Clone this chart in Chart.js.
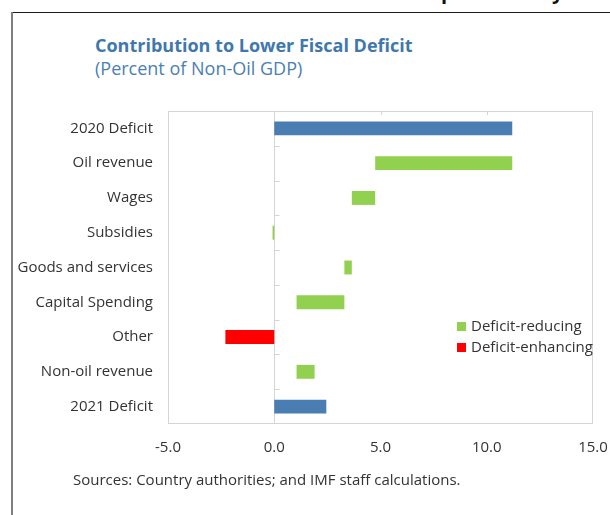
<!DOCTYPE html>
<html>
<head>
  <meta charset="utf-8">
  <script src="https://cdn.jsdelivr.net/npm/chart.js@4.4.0/dist/chart.umd.min.js"></script>
  <style>
    body { margin: 0; background: #fff; }
    .page { position: relative; width: 610px; height: 515px; overflow: hidden; background: #fff; font-family: "Open Sans", sans-serif; }
    .frameTop { position: absolute; left: 11px; top: 12px; width: 599px; height: 0; border-top: 1.5px solid #1a1a1a; }
    .frameLeft { position: absolute; left: 11px; top: 12px; width: 0; height: 503px; border-left: 2px solid #808080; }
    .cutText { position: absolute; top: -18px; font-size: 20px; line-height: 20px; font-weight: bold; color: #111; }
    .title { position: absolute; left: 95px; top: 33px; font-size: 18px; font-weight: bold; color: #3f78ad; white-space: nowrap; }
    .subtitle { position: absolute; left: 95px; top: 56px; font-size: 18px; color: #4a80b4; white-space: nowrap; }
    .sources { position: absolute; left: 73px; top: 469px; font-size: 15px; color: #333; white-space: nowrap; }
    .legend { position: absolute; left: 457px; top: 315px; font-size: 15px; color: #333; line-height: 21px; }
    .legend span.box { display: inline-block; width: 9px; height: 9px; margin-right: 5px; vertical-align: 0px; }
    canvas { position: absolute; left: 0; top: 0; }
  </style>
</head>
<body>
  <div class="page">
    <div class="cutText" style="left:441px">p</div>
    <div class="cutText" style="left:552px">y</div>
    <div class="frameTop"></div>
    <div class="frameLeft"></div>
    <div class="title">Contribution to Lower Fiscal Deficit</div>
    <div class="subtitle">(Percent of Non-Oil GDP)</div>
    <canvas id="fiscalCanvas" width="610" height="515"></canvas>
    <div class="legend" id="legendBox"></div>
    <div class="sources">Sources: Country authorities; and IMF staff calculations.</div>
  </div>

  <script>
    const categories = ['2020 Deficit', 'Oil revenue', 'Wages', 'Subsidies', 'Goods and services',
      'Capital Spending', 'Other', 'Non-oil revenue', '2021 Deficit'];
    // floating bars: where each contribution starts and ends
    const barStart = [0, 4.75, 3.65, -0.08, 3.3, 1.05, -2.3, 1.05, 0];
    const barEnd = [11.2, 11.2, 4.75, 0, 3.65, 3.3, 0, 1.9, 2.45];
    const barKind = ['total', 'reducing', 'reducing', 'reducing', 'reducing', 'reducing', 'enhancing', 'reducing', 'total'];
    const xMin = -5;
    const xMax = 15;
    const xStep = 5;
    const legendKinds = ['reducing', 'enhancing'];
    const legendLabels = ['Deficit-reducing', 'Deficit-enhancing'];

    const kindColors = { total: '#4a7db1', reducing: '#92d050', enhancing: '#ff0000' };
    const lineGray = '#d4d4d4';

    // legend markup
    const legendBox = document.getElementById('legendBox');
    legendKinds.forEach((k, i) => {
      const row = document.createElement('div');
      row.innerHTML = '<span class="box" style="background:' + kindColors[k] + '"></span>' + legendLabels[i];
      legendBox.appendChild(row);
    });

    // plot frame, zero axis and its small tick marks
    const frameLines = {
      id: 'frameLines',
      beforeDatasetsDraw(chart) {
        const ctx = chart.ctx;
        const area = chart.chartArea;
        const xs = chart.scales.x;
        const ys = chart.scales.y;
        ctx.save();
        ctx.strokeStyle = lineGray;
        ctx.lineWidth = 1;
        ctx.strokeRect(area.left + 0.5, area.top + 0.5, area.right - area.left - 1, area.bottom - area.top - 1);

        const x0 = Math.round(xs.getPixelForValue(0)) + 0.5;
        ctx.beginPath();
        ctx.moveTo(x0, area.top);
        ctx.lineTo(x0, area.bottom);
        for (let i = 1; i < categories.length; i++) {
          const y = Math.round((ys.getPixelForTick(i - 1) + ys.getPixelForTick(i)) / 2) + 0.5;
          ctx.moveTo(x0, y);
          ctx.lineTo(x0 + 5, y);
        }
        for (let v = xMin + xStep; v < xMax; v += xStep) {
          if (v === 0) continue;
          const x = Math.round(xs.getPixelForValue(v)) + 0.5;
          ctx.moveTo(x, area.top);
          ctx.lineTo(x, area.top + 4);
        }
        ctx.stroke();
        ctx.restore();
      }
    };

    new Chart(document.getElementById('fiscalCanvas').getContext('2d'), {
      type: 'bar',
      data: {
        labels: categories,
        datasets: [{
          data: barStart.map((s, i) => [s, barEnd[i]]),
          backgroundColor: barKind.map(k => kindColors[k]),
          barPercentage: 0.4,
          categoryPercentage: 1.0
        }]
      },
      options: {
        indexAxis: 'y',
        responsive: false,
        animation: false,
        layout: { padding: { left: 0, top: 111, right: 17, bottom: 51 } },
        plugins: {
          legend: { display: false },
          tooltip: { enabled: false }
        },
        scales: {
          x: {
            min: xMin,
            max: xMax,
            afterFit(scale) {
              scale.height = 40;
              scale.paddingRight = 0;
              scale.paddingLeft = 0;
            },
            ticks: {
              stepSize: xStep,
              padding: 7,
              color: '#333',
              font: { family: 'Open Sans', size: 15 },
              callback: v => Number(v).toFixed(1)
            },
            grid: { display: false },
            border: { display: false }
          },
          y: {
            afterFit(scale) { scale.width = 168; },
            ticks: {
              padding: 7,
              color: '#333',
              font: { family: 'Open Sans', size: 15 }
            },
            grid: { display: false },
            border: { display: false }
          }
        }
      },
      plugins: [frameLines]
    });
  </script>
</body>
</html>
